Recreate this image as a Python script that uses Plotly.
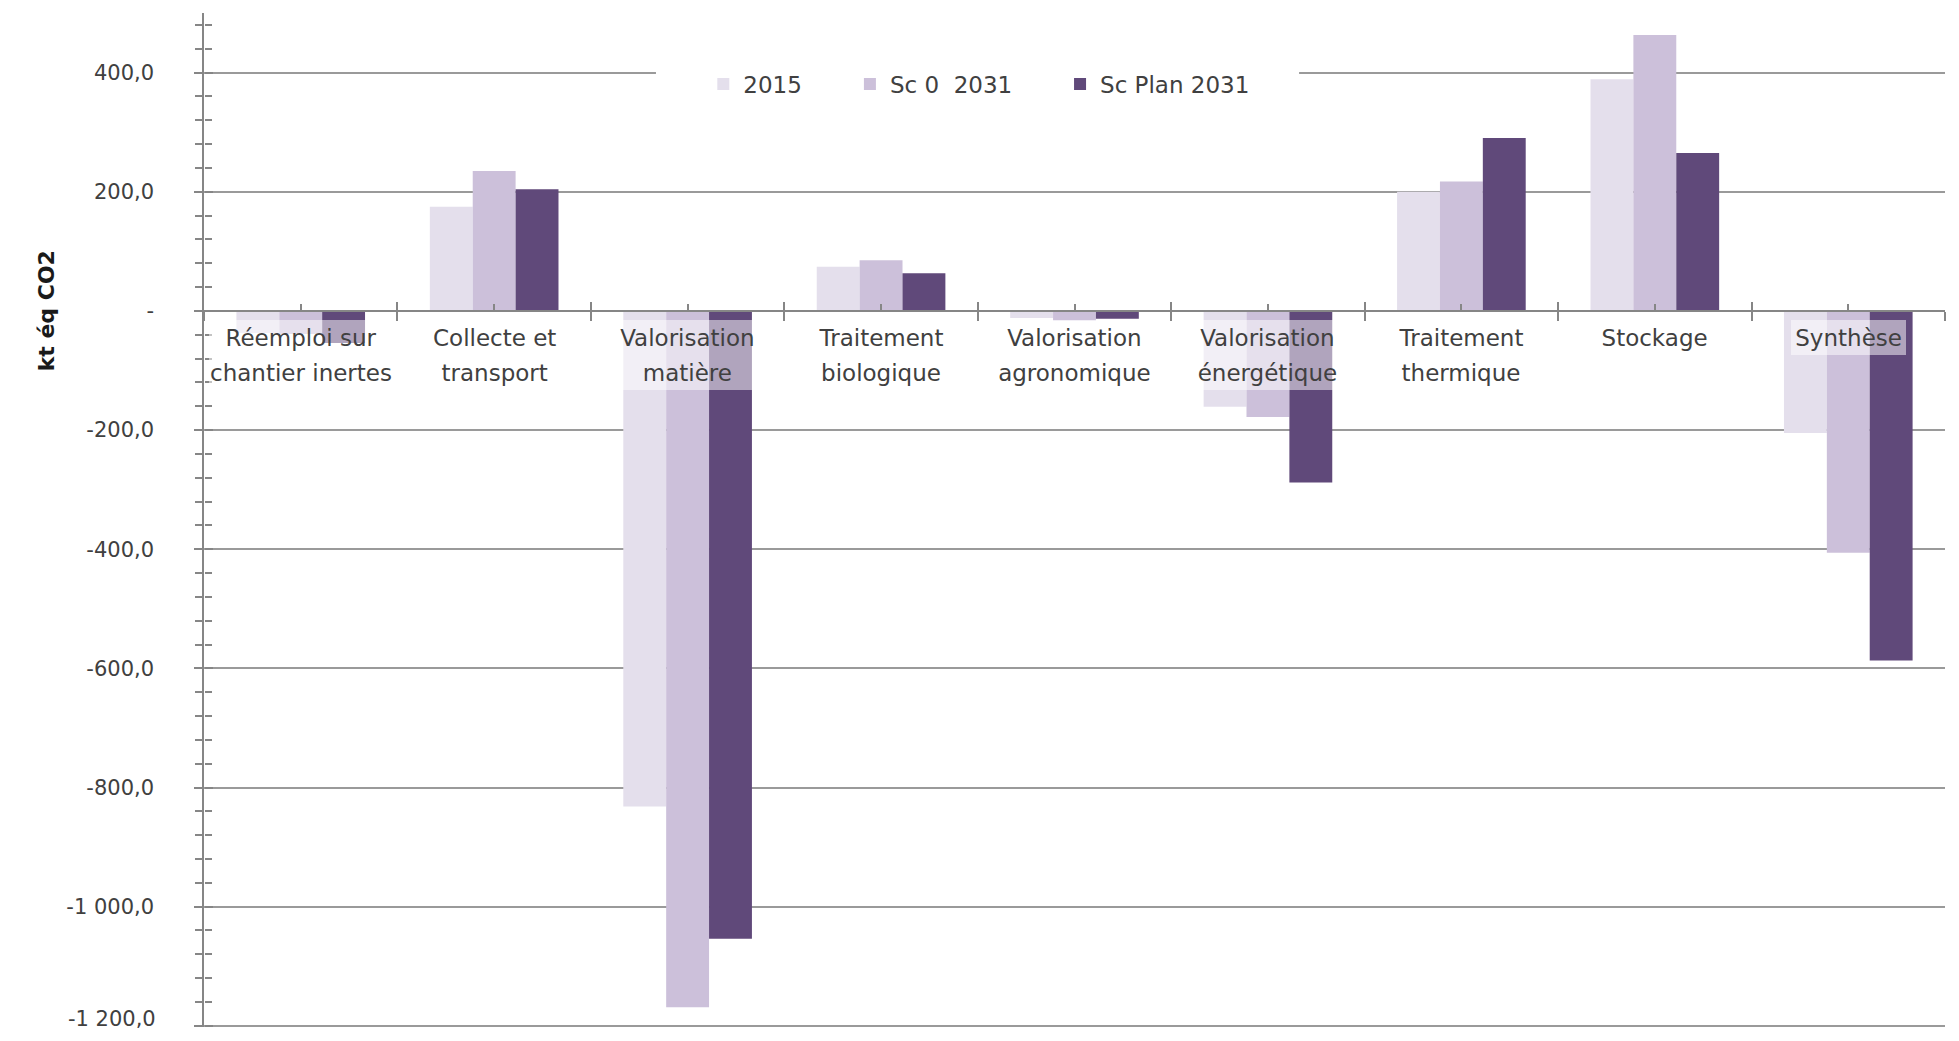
import plotly.graph_objects as go

# ---- data ----
categories = [
    "Réemploi sur<br>chantier inertes",
    "Collecte et<br>transport",
    "Valorisation<br>matière",
    "Traitement<br>biologique",
    "Valorisation<br>agronomique",
    "Valorisation<br>énergétique",
    "Traitement<br>thermique",
    "Stockage",
    "Synthèse",
]
series_names = ["2015", "Sc 0  2031", "Sc Plan 2031"]
v2015 = [-37, 175, -832, 74, -12, -161, 200, 389, -205]
v_sc0 = [-39, 235, -1169, 85, -16, -178, 217, 463, -406]
v_plan = [-54, 204, -1054, 63, -13, -288, 290, 265, -587]
ytick_vals = [400, 200, 0, -200, -400, -600, -800, -1000, -1200]
ytick_text = ["400,0", "200,0", "-", "-200,0", "-400,0", "-600,0", "-800,0", "-1 000,0", "-1 200,0"]
y_title = "kt éq CO2"

# ---- style ----
colors = ["#E4DFEC", "#CCC0DA", "#60497A"]
FONT = "DejaVu Sans"
TXT = "#404040"
GRID = "#9a9a9a"
AX = "#868686"
YMIN, YMAX = -1202, 500

n = len(categories)
zero_pos = (0 - YMIN) / (YMAX - YMIN)
xr = [-0.5, n - 0.5]
boundaries = [i - 0.5 for i in range(n + 1)]
centers = list(range(n))

fig = go.Figure()
legends = ["legend", "legend2", "legend3"]
for name, vals, col, lg in zip(series_names, [v2015, v_sc0, v_plan], colors, legends):
    fig.add_trace(go.Bar(
        name=name, x=categories, y=vals,
        marker=dict(color=col, line=dict(width=0)),
        legend=lg, showlegend=True,
    ))

# empty helper traces so that the overlay tick axes get drawn
for xa, ya in [("x2", "y"), ("x3", "y"), ("x4", "y"), ("x", "y2")]:
    fig.add_trace(go.Scatter(x=[], y=[], xaxis=xa, yaxis=ya, showlegend=False,
                             hoverinfo="skip", mode="markers"))

# category labels with semi-transparent background (one annotation per line)
for cat in categories:
    lines = cat.split("<br>")
    w = min(max(len(s) for s in lines) * 13.4 + 8, 184)
    for k, line in enumerate(lines):
        fig.add_annotation(
            x=cat, y=0, xref="x", yref="y", text=line, showarrow=False,
            yanchor="middle", yshift=-27 - 35 * k, width=w, height=35,
            font=dict(family=FONT, size=23, color=TXT),
            bgcolor="rgba(255,255,255,0.5)", borderpad=0, borderwidth=0,
        )

# y axis title
fig.add_annotation(
    x=-0.0988, y=0, xref="paper", yref="y", text="<b>" + y_title + "</b>",
    textangle=-90, showarrow=False,
    font=dict(family=FONT, size=22, color="#1a1a1a"),
)

# last tick label drawn separately, nudged up so it stays inside the picture
tick_labels = list(ytick_text[:-1]) + [""]
fig.add_annotation(
    x=-0.0262, y=ytick_vals[-1], xref="paper", yref="y", text=ytick_text[-1],
    xanchor="right", yanchor="middle", yshift=7, showarrow=False,
    font=dict(family=FONT, size=21, color=TXT),
)

# white box behind the legend (hides the gridline as in the original)
fig.add_shape(type="rect", xref="paper", yref="y", x0=0.2596, x1=0.629,
              y0=365, y1=435, fillcolor="white", line=dict(width=0), layer="above")

leg_common = dict(orientation="h", yanchor="middle", y=0.930, xanchor="left",
                  bgcolor="rgba(0,0,0,0)", font=dict(family=FONT, size=23, color=TXT),
                  itemclick=False)

xcommon = dict(range=xr, anchor="free", position=zero_pos, showticklabels=False,
               showgrid=False, zeroline=False, automargin=False, fixedrange=True)

fig.update_layout(
    width=1943, height=1025,
    margin=dict(l=196, r=6, t=5, b=6),
    paper_bgcolor="white", plot_bgcolor="white",
    showlegend=True,
    barmode="group", bargap=0.335, bargroupgap=0,
    font=dict(family=FONT, color=TXT),
    legend=dict(leg_common, x=0.2868),
    legend2=dict(leg_common, x=0.371),
    legend3=dict(leg_common, x=0.4917),
    xaxis=dict(xcommon, showline=True, linecolor=AX, linewidth=1.5, ticks=""),
    xaxis2=dict(xcommon, overlaying="x", tickmode="array", tickvals=boundaries,
                ticks="outside", ticklen=9, tickcolor=AX, tickwidth=1.5, showline=False),
    xaxis3=dict(xcommon, overlaying="x", tickmode="array", tickvals=boundaries,
                ticks="inside", ticklen=9, tickcolor=AX, tickwidth=1.5, showline=False),
    xaxis4=dict(xcommon, overlaying="x", tickmode="array", tickvals=centers,
                ticks="inside", ticklen=7, tickcolor=AX, tickwidth=1.5, showline=False),
    yaxis=dict(range=[YMIN, YMAX], tickmode="array", tickvals=ytick_vals, ticktext=tick_labels,
               ticks="outside", ticklen=8, tickcolor=AX, tickwidth=1.5,
               ticklabelstandoff=36, automargin=False,
               tickfont=dict(family=FONT, size=21, color=TXT),
               showline=True, linecolor=AX, linewidth=1.5,
               showgrid=True, gridcolor=GRID, gridwidth=1.5, zeroline=False,
               minor=dict(tickmode="linear", tick0=0, dtick=40, ticks="outside",
                          ticklen=7, tickcolor=AX, tickwidth=1.5, showgrid=False),
               fixedrange=True),
    yaxis2=dict(overlaying="y", range=[YMIN, YMAX], anchor="free", position=0,
                tickmode="array", tickvals=ytick_vals, ticks="inside", ticklen=8,
                tickcolor=AX, tickwidth=1.5, showticklabels=False, showgrid=False,
                showline=False, zeroline=False, automargin=False,
                minor=dict(tickmode="linear", tick0=0, dtick=40, ticks="inside",
                           ticklen=7, tickcolor=AX, tickwidth=1.5, showgrid=False)),
)

fig.write_html("out.html")
